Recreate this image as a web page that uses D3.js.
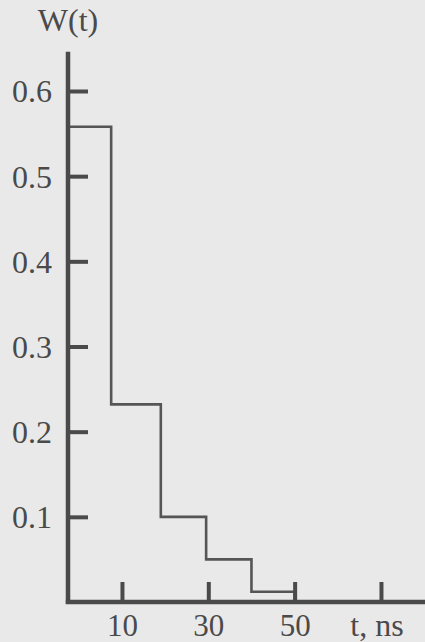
<!DOCTYPE html>
<html>
<head>
<meta charset="utf-8">
<script src="https://cdnjs.cloudflare.com/ajax/libs/d3/7.8.5/d3.min.js"></script>
<style>
  html, body { margin: 0; padding: 0; background: #e9e9e9; }
  svg { display: block; }
  .axis text { font-family: "Liberation Serif", "DejaVu Serif", serif; fill: #4a4a4a; }
</style>
</head>
<body>
<div id="chart"></div>
<script>
// bin edges in ns (first edge sits on the W axis) and the W(t) value of each bin
var binEdges = [-2.5, 7.5, 19, 29.5, 40, 50];
var binValues = [0.558, 0.232, 0.1, 0.05, 0.012];
var yTicks = [0.1, 0.2, 0.3, 0.4, 0.5, 0.6];
var xTicks = [10, 30, 50, 70];
var xTickLabels = ["10", "30", "50", ""];

var width = 425;
var height = 642;
var ink = "#4a4a4a";

var svg = d3.select("#chart")
    .append("svg")
    .attr("width", width)
    .attr("height", height);

svg.append("rect")
    .attr("width", width)
    .attr("height", height)
    .attr("fill", "#e9e9e9");

var x = d3.scaleLinear()
    .domain([-2.5, 80.2])
    .range([68, 425]);

var y = d3.scaleLinear()
    .domain([0, 0.6])
    .range([602, 91]);

// step line
var stepPts = binValues.map(function(v, i) { return [binEdges[i], v]; });
stepPts.push([binEdges[binEdges.length - 1], 0]);

var line = d3.line()
    .x(function(d) { return x(d[0]); })
    .y(function(d) { return y(d[1]); })
    .curve(d3.curveStepAfter);

svg.append("path")
    .datum(stepPts)
    .attr("d", line)
    .attr("fill", "none")
    .attr("stroke", "#555")
    .attr("stroke-width", 2.6);

// y axis
var yAxis = svg.append("g")
    .attr("class", "axis")
    .attr("transform", "translate(" + x(-2.5) + ",0)")
    .call(d3.axisLeft(y)
        .tickValues(yTicks)
        .tickFormat(d3.format(".1f"))
        .tickSizeInner(-20)
        .tickSizeOuter(0)
        .tickPadding(16));

yAxis.select(".domain").remove();
yAxis.selectAll(".tick line").attr("stroke", ink).attr("stroke-width", 4);
yAxis.selectAll(".tick text")
    .attr("dy", "0.34em")
    .style("font-size", "32px");

yAxis.append("line")
    .attr("x1", 0).attr("x2", 0)
    .attr("y1", y(0) + 2).attr("y2", y(0.646))
    .attr("stroke", ink)
    .attr("stroke-width", 4.5);

// x axis
var xAxis = svg.append("g")
    .attr("class", "axis")
    .attr("transform", "translate(0," + y(0) + ")")
    .call(d3.axisBottom(x)
        .tickValues(xTicks)
        .tickFormat(function(d, i) { return xTickLabels[i]; })
        .tickSizeInner(-20)
        .tickSizeOuter(0));

xAxis.select(".domain").remove();
xAxis.selectAll(".tick line").attr("stroke", ink).attr("stroke-width", 4);
xAxis.selectAll(".tick text")
    .attr("y", 34)
    .attr("dy", null)
    .style("font-size", "31px");

xAxis.append("line")
    .attr("x1", x(-2.5) - 2.2).attr("x2", width)
    .attr("y1", 0).attr("y2", 0)
    .attr("stroke", ink)
    .attr("stroke-width", 4.5);

// axis titles
svg.append("text")
    .attr("x", 68)
    .attr("y", 31)
    .attr("text-anchor", "middle")
    .style("font-family", "Liberation Serif, serif")
    .style("font-size", "32px")
    .attr("fill", ink)
    .text("W(t)");

svg.append("text")
    .attr("x", 377)
    .attr("y", y(0) + 34)
    .attr("text-anchor", "middle")
    .style("font-family", "Liberation Serif, serif")
    .style("font-size", "32px")
    .attr("fill", ink)
    .text("t, ns");
</script>
</body>
</html>
